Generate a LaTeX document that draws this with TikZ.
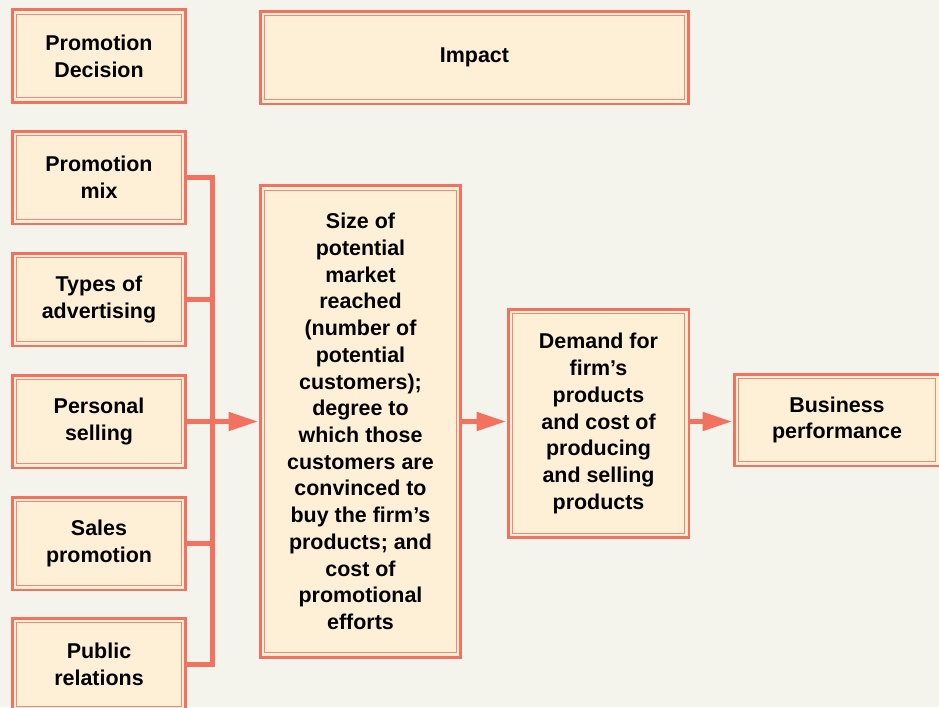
\documentclass[tikz,border=0pt]{standalone}
\usepackage{fontspec}
\setmainfont{Liberation Sans}
\usetikzlibrary{arrows.meta,positioning}
\definecolor{salmon}{HTML}{F2725F}
\definecolor{boxfill}{HTML}{FEF0D6}
\definecolor{paper}{HTML}{F4F4EC}
\tikzset{
  card/.style={draw=salmon, line width=1.7pt, fill=boxfill, align=center, inner sep=0pt,
    font=\fontsize{12.2}{15.2}\selectfont\bfseries},
  small card/.style={card, minimum width=3.48cm, minimum height=1.86cm},
  trim/.style={draw=salmon!85, line width=0.6pt},
  link/.style={draw=salmon, line width=3.3pt},
  flow/.style={link, -{Triangle[length=17pt, width=10pt]}}
}
\begin{document}
\begin{tikzpicture}[x=0.02cm, y=-0.02cm]
\useasboundingbox[fill=paper] (0,0) rectangle (939,707);
% header row
\node[small card] (decision) at (99,56) {Promotion\\Decision};
\node[card, minimum width=8.58cm, minimum height=1.86cm] (impact) at (474.5,57.5) {Impact};
% elements of the promotion mix
\node[small card] (mix) at (99,177.5) {Promotion\\mix};
\node[small card] (adv) at (99,299.5) {Types of\\advertising};
\node[small card] (selling) at (99,421.5) {Personal\\selling};
\node[small card] (sales) at (99,543.5) {Sales\\promotion};
\node[small card] (pr) at (99,664.5) {Public\\relations};
% impact chain
\node[card, minimum width=4.02cm, minimum height=9.44cm] (reach) at (360.5,421.5)
  {Size of\\potential\\market\\reached\\(number of\\potential\\customers);\\degree to\\which those\\customers are\\convinced to\\buy the firm’s\\products; and\\cost of\\promotional\\efforts};
\node[card, minimum width=3.62cm, minimum height=4.58cm] (demand) at (598.5,423.5)
  {Demand for\\firm’s\\products\\and cost of\\producing\\and selling\\products};
\node[card, minimum width=4.12cm, minimum height=1.84cm] (perf) at (837,420) {Business\\performance};
% inner borders
\foreach \n in {decision,impact,mix,adv,selling,sales,pr,reach,demand,perf}
  \draw[trim] ([shift={(3.6pt,-3.6pt)}]\n.north west) rectangle ([shift={(-3.6pt,3.6pt)}]\n.south east);
% bracket and arrows
\draw[link] (mix.east) -- ++(25,0) |- (pr.east);
\draw[link] (adv.east) -- ++(25,0);
\draw[link] (sales.east) -- ++(25,0);
\draw[flow] (selling.east) -- (reach.west |- selling.east);
\draw[flow] (reach.east |- selling.east) -- (demand.west |- selling.east);
\draw[flow] (demand.east |- selling.east) -- (perf.west |- selling.east);
\end{tikzpicture}
\end{document}
